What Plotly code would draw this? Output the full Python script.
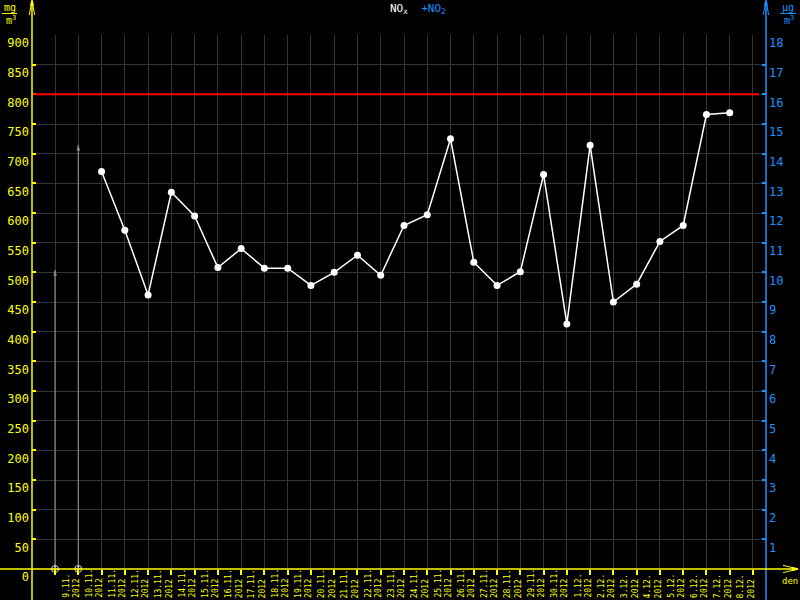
import plotly.graph_objects as go

# ---- data ----
days = ["8.11.", "9.11.", "10.11.", "11.11.", "12.11.", "13.11.", "14.11.", "15.11.",
        "16.11.", "17.11.", "18.11.", "19.11.", "20.11.", "21.11.", "22.11.", "23.11.",
        "24.11.", "25.11.", "26.11.", "27.11.", "28.11.", "29.11.", "30.11.", "1.12.",
        "2.12.", "3.12.", "4.12.", "5.12.", "6.12.", "7.12.", "8.12."]
year = "2012"
nox_days = days[2:30]
nox_values = [670, 571, 462, 635, 595, 508, 540, 507, 507, 478, 500, 529, 495, 579,
              597, 725, 517, 478, 501, 665, 413, 714, 450, 480, 552, 579, 766, 769]
aux_days = ["8.11.", "9.11."]
aux_values = [504, 715]
limit_value = 800
left_ticks = list(range(0, 901, 50))
right_ticks = list(range(1, 19))

YEL = "#ffff00"
BLUE = "#1e90ff"
GRID = "#353535"
FONT = "DejaVu Sans Mono"

idx = {d: i for i, d in enumerate(days)}

# pixel -> paper helpers (plot area: x 32..766, y 35..569)
L, R, T, B = 32, 766, 35, 569
def pxx(x):
    return (x - L) / (R - L)
def pxy(y):
    return (B - y) / (B - T)

fig = go.Figure()

# auxiliary grey lines with arrow tips
for d, v in zip(aux_days, aux_values):
    fig.add_trace(go.Scatter(x=[idx[d], idx[d]], y=[0, v], mode="lines",
                             line=dict(color="#8a8a8a", width=1.2),
                             hoverinfo="skip", showlegend=False))
fig.add_trace(go.Scatter(x=[idx[d] for d in aux_days], y=aux_values, mode="markers",
                         marker=dict(symbol="arrow", size=6, color="#8a8a8a"),
                         showlegend=False, hoverinfo="skip"))
fig.add_trace(go.Scatter(x=[idx[d] for d in aux_days], y=[0] * len(aux_days), mode="markers",
                         marker=dict(symbol="circle-cross-open", size=7, color="#dddddd",
                                     line=dict(width=1, color="#dddddd")),
                         showlegend=False, hoverinfo="skip", cliponaxis=False))

# NOx series
fig.add_trace(go.Scatter(x=[idx[d] for d in nox_days], y=nox_values, mode="lines+markers",
                         line=dict(color="white", width=1.5),
                         marker=dict(symbol="circle", size=7, color="white"),
                         showlegend=False))

# dummy trace for right axis
fig.add_trace(go.Scatter(x=[0], y=[0], yaxis="y2", mode="markers",
                         marker=dict(opacity=0), showlegend=False, hoverinfo="skip"))

shapes = []
# limit line
shapes.append(dict(type="line", xref="paper", yref="y", x0=0, x1=pxx(759),
                   y0=limit_value, y1=limit_value, line=dict(color="#ff0000", width=2)))
# axis lines (extended beyond plot)
shapes.append(dict(type="line", xref="paper", yref="paper", x0=0, x1=0,
                   y0=pxy(600), y1=pxy(1), line=dict(color=YEL, width=1.5)))
shapes.append(dict(type="line", xref="paper", yref="paper", x0=1, x1=1,
                   y0=pxy(600), y1=pxy(1), line=dict(color=BLUE, width=1.5)))
shapes.append(dict(type="line", xref="paper", yref="paper", x0=pxx(0), x1=pxx(797),
                   y0=0, y1=0, line=dict(color=YEL, width=1.5)))
# arrowheads
def path(points):
    return "M " + " L ".join(f"{pxx(x):.5f},{pxy(y):.5f}" for x, y in points)
shapes.append(dict(type="path", xref="paper", yref="paper",
                   path=path([(29.3, 15), (32, 0.5), (34.7, 15)]),
                   line=dict(color=YEL, width=1)))
shapes.append(dict(type="path", xref="paper", yref="paper",
                   path=path([(31, 5), (32, 0.5), (33, 5)]) + " Z",
                   line=dict(color=YEL, width=1.5), fillcolor=YEL))
shapes.append(dict(type="path", xref="paper", yref="paper",
                   path=path([(763.3, 15), (766, 0.5), (768.7, 15)]),
                   line=dict(color=BLUE, width=1)))
shapes.append(dict(type="path", xref="paper", yref="paper",
                   path=path([(765, 5), (766, 0.5), (767, 5)]) + " Z",
                   line=dict(color=BLUE, width=1.5), fillcolor=BLUE))
shapes.append(dict(type="path", xref="paper", yref="paper",
                   path=path([(783, 565.3), (798, 569), (783, 572.7)]),
                   line=dict(color=YEL, width=1)))
shapes.append(dict(type="path", xref="paper", yref="paper",
                   path=path([(793, 568), (798, 569), (793, 570)]) + " Z",
                   line=dict(color=YEL, width=1.5), fillcolor=YEL))
# unit fraction bars
shapes.append(dict(type="line", xref="paper", yref="paper", x0=pxx(2), x1=pxx(17),
                   y0=pxy(13.5), y1=pxy(13.5), line=dict(color=YEL, width=1)))
shapes.append(dict(type="line", xref="paper", yref="paper", x0=pxx(780), x1=pxx(796),
                   y0=pxy(13.5), y1=pxy(13.5), line=dict(color=BLUE, width=1)))

annotations = []
# x labels (rotated, two lines)
for i, d in enumerate(days):
    if i == 0:
        continue
    annotations.append(dict(x=i, y=pxy(599), xref="x", yref="paper", xshift=-7.5,
                            text=f"{d}<br>{year}", textangle=-90, showarrow=False,
                            xanchor="center", yanchor="bottom", align="left",
                            font=dict(family=FONT, size=8, color=YEL), borderpad=0))
# units
def unit(xc, txt, color):
    annotations.append(dict(x=pxx(xc), y=pxy(8), xref="paper", yref="paper", text=txt,
                            showarrow=False, xanchor="center", yanchor="middle",
                            font=dict(family=FONT, size=10, color=color), borderpad=0))
    annotations.append(dict(x=pxx(xc + 1), y=pxy(19.5), xref="paper", yref="paper",
                            text="m<sup>3</sup>",
                            showarrow=False, xanchor="center", yanchor="middle",
                            font=dict(family=FONT, size=10, color=color), borderpad=0))
unit(10, "mg", YEL)
unit(788, "μg", BLUE)
# x axis name
annotations.append(dict(x=pxx(790), y=pxy(575), xref="paper", yref="paper", text="den",
                        showarrow=False, xanchor="center", yanchor="top",
                        font=dict(family=FONT, size=9, color=YEL), borderpad=0))
# title
annotations.append(dict(x=pxx(418), y=pxy(1), xref="paper", yref="paper",
                        text="NO<sub>x</sub>  <span style='color:%s'>+NO<sub>2</sub></span>" % BLUE,
                        showarrow=False, xanchor="center", yanchor="top",
                        font=dict(family=FONT, size=11, color="white"), borderpad=0))

fig.update_layout(
    width=800, height=600, autosize=False,
    margin=dict(l=L, r=800 - R, t=T, b=600 - B, pad=0, autoexpand=False),
    paper_bgcolor="black", plot_bgcolor="black",
    showlegend=False,
    xaxis=dict(range=[-0.99, 30.56], tickvals=list(range(len(days))), showticklabels=False,
               showgrid=True, gridcolor=GRID, gridwidth=1, zeroline=False, showline=False,
               ticks="outside", ticklen=5, tickcolor=YEL, tickwidth=1.5, automargin=False),
    yaxis=dict(range=[0, 900], tickvals=left_ticks, ticktext=[str(v) for v in left_ticks],
               showgrid=True, gridcolor=GRID, gridwidth=1, zeroline=False, showline=False,
               ticks="inside", ticklen=4, tickcolor=YEL, tickwidth=1.5,
               tickfont=dict(family=FONT, size=12, color=YEL), automargin=False,
               ticklabelshift=8, ticklabelstandoff=2),
    yaxis2=dict(range=[0, 18], overlaying="y", side="right", tickvals=right_ticks,
                showgrid=False, zeroline=False, showline=False,
                ticks="inside", ticklen=4, tickcolor=BLUE, tickwidth=1.5,
                tickfont=dict(family=FONT, size=12, color=BLUE), automargin=False,
                ticklabelshift=8, ticklabelstandoff=2),
    shapes=shapes, annotations=annotations,
)
fig.write_html("out.html", config={"displayModeBar": False},
               post_script="document.body.style.margin='0';document.body.style.overflow='hidden';")
